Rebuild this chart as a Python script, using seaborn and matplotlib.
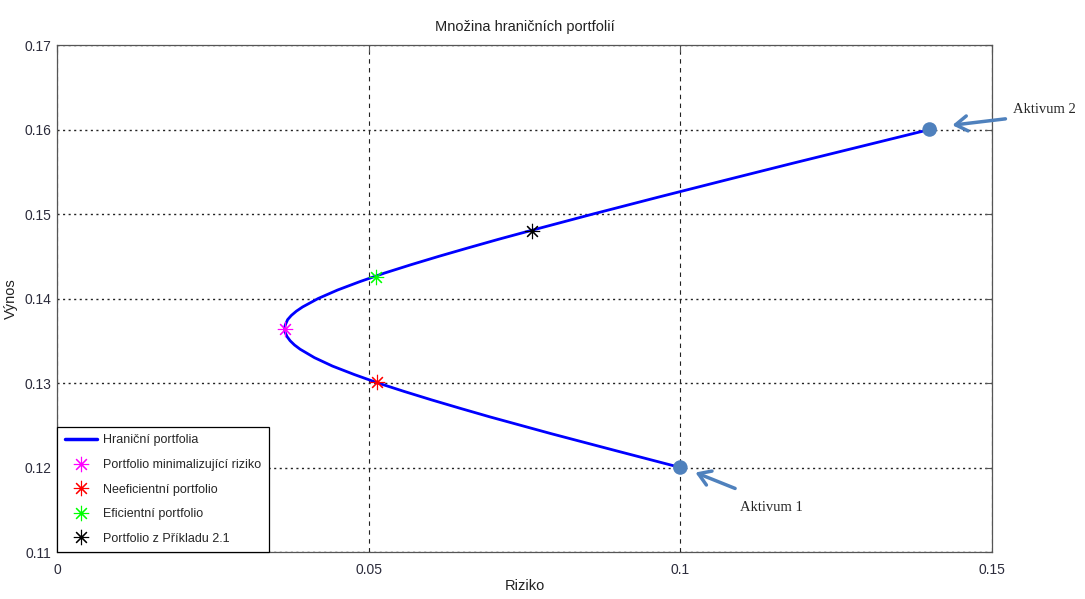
import numpy as np
import pandas as pd
import matplotlib
matplotlib.use("Agg")
import matplotlib.pyplot as plt
from matplotlib.lines import Line2D
import seaborn as sns

# hranicni portfolia (odhad z obrazku): riziko a vynos
riziko = [0.1000, 0.0896, 0.0793, 0.0694, 0.0647, 0.0601, 0.0557, 0.0515, 0.0477,
          0.0442, 0.0413, 0.0390, 0.0381, 0.0374, 0.0369, 0.0366, 0.0365, 0.0366,
          0.0367, 0.0370, 0.0376, 0.0384, 0.0394, 0.0419, 0.0450, 0.0486, 0.0525,
          0.0568, 0.0613, 0.0660, 0.0708, 0.0758, 0.0860, 0.0965, 0.1072, 0.1180,
          0.1290, 0.1400]
vynos = [0.120, 0.122, 0.124, 0.126, 0.127, 0.128, 0.129, 0.130, 0.131,
         0.132, 0.133, 0.134, 0.1345, 0.135, 0.1355, 0.136, 0.1364, 0.1368,
         0.137, 0.1375, 0.138, 0.1385, 0.139, 0.140, 0.141, 0.142, 0.143,
         0.144, 0.145, 0.146, 0.147, 0.148, 0.150, 0.152, 0.154, 0.156,
         0.158, 0.160]

# vyznacena portfolia
bod_nazvy = ["Portfolio minimalizující riziko", "Neeficientní portfolio",
             "Eficientní portfolio", "Portfolio z Příkladu 2.1"]
bod_riziko = [0.0366, 0.0513, 0.0512, 0.0762]
bod_vynos = [0.1364, 0.1301, 0.1426, 0.1480]
bod_barvy = ["#ff00ff", "#ff0000", "#00ff00", "#000000"]

# aktiva
aktiva = ["Aktivum 1", "Aktivum 2"]
aktiva_riziko = [0.10, 0.14]
aktiva_vynos = [0.12, 0.16]

sns.set_theme(style="white")
plt.rcParams["font.family"] = ["Liberation Sans Narrow", "DejaVu Sans Condensed",
                               "Liberation Sans", "DejaVu Sans"]

fig = plt.figure(figsize=(10.85, 5.99), dpi=100)
ax = fig.add_axes([57 / 1085, 47 / 599, 935 / 1085, 507 / 599])

df = pd.DataFrame({"riziko": riziko, "vynos": vynos})
sns.lineplot(data=df, x="riziko", y="vynos", sort=False, estimator=None,
             color="#0000ff", lw=2, ax=ax, zorder=3)

asterisk = (8, 2, 0)
for r, v, c in zip(bod_riziko, bod_vynos, bod_barvy):
    ax.plot(r, v, marker=asterisk, ms=11, mec=c, mfc=c, mew=0.8, ls="none", zorder=4)

sns.scatterplot(x=aktiva_riziko, y=aktiva_vynos, color="#4f81bd", s=110,
                edgecolor="none", ax=ax, zorder=5)

sipka = dict(arrowstyle="->,head_length=0.7,head_width=0.45", color="#4f81bd", lw=2.5)
ax.annotate("", xy=(0.1020, 0.11953), xytext=(0.1092, 0.1174), arrowprops=sipka)
ax.annotate("", xy=(0.1432, 0.16047), xytext=(0.1526, 0.1613), arrowprops=sipka,
            annotation_clip=False)
ax.text(0.1096, 0.11527, aktiva[0], family="Liberation Serif", fontsize=10.5,
        va="center", ha="left")
ax.text(0.1534, 0.16237, aktiva[1], family="Liberation Serif", fontsize=10.5,
        va="center", ha="left", clip_on=False)

ax.set_xlim(0, 0.15)
ax.set_ylim(0.11, 0.17)
ax.set_xticks([0, 0.05, 0.1, 0.15])
ax.set_xticklabels(["0", "0.05", "0.1", "0.15"])
ax.set_yticks([0.11, 0.12, 0.13, 0.14, 0.15, 0.16, 0.17])
ax.set_yticklabels(["0.11", "0.12", "0.13", "0.14", "0.15", "0.16", "0.17"])
ax.tick_params(direction="in", top=True, right=True, length=5, width=0.8,
               color="#555555", labelsize=10, labelcolor="#2b2b3b")
ax.tick_params(axis="x", pad=8)
ax.tick_params(axis="y", pad=4)
for s in ax.spines.values():
    s.set_color("#555555")
    s.set_linewidth(0.9)

ax.xaxis.grid(True, color="#222222", ls=(0, (4, 4)), lw=0.8)
ax.yaxis.grid(True, color="#222222", ls=(0, (1.5, 2.5)), lw=1)
ax.set_axisbelow(True)

ax.set_title("Množina hraničních portfolií", fontsize=10.5, pad=10, color="#222222")
ax.set_xlabel("Riziko", fontsize=10.5, color="#222222")
ax.xaxis.set_label_coords(0.5, -0.053)
ax.set_ylabel("Výnos", fontsize=10.5, color="#222222")
ax.yaxis.set_label_coords(-0.042, 0.5)

handles = [Line2D([], [], color="#0000ff", lw=2.5)]
for c in bod_barvy:
    handles.append(Line2D([], [], marker=asterisk, ms=11, mec=c, mfc=c, mew=0.8, ls="none"))
leg = ax.legend(handles, ["Hraniční portfolia"] + bod_nazvy, loc="lower left",
                borderaxespad=0, fancybox=False, framealpha=1, edgecolor="#000000",
                fontsize=9, handlelength=2.6, handletextpad=0.5, labelspacing=1.0,
                borderpad=0.6)
leg.get_frame().set_linewidth(0.9)

fig.savefig("out.png", dpi=100)
